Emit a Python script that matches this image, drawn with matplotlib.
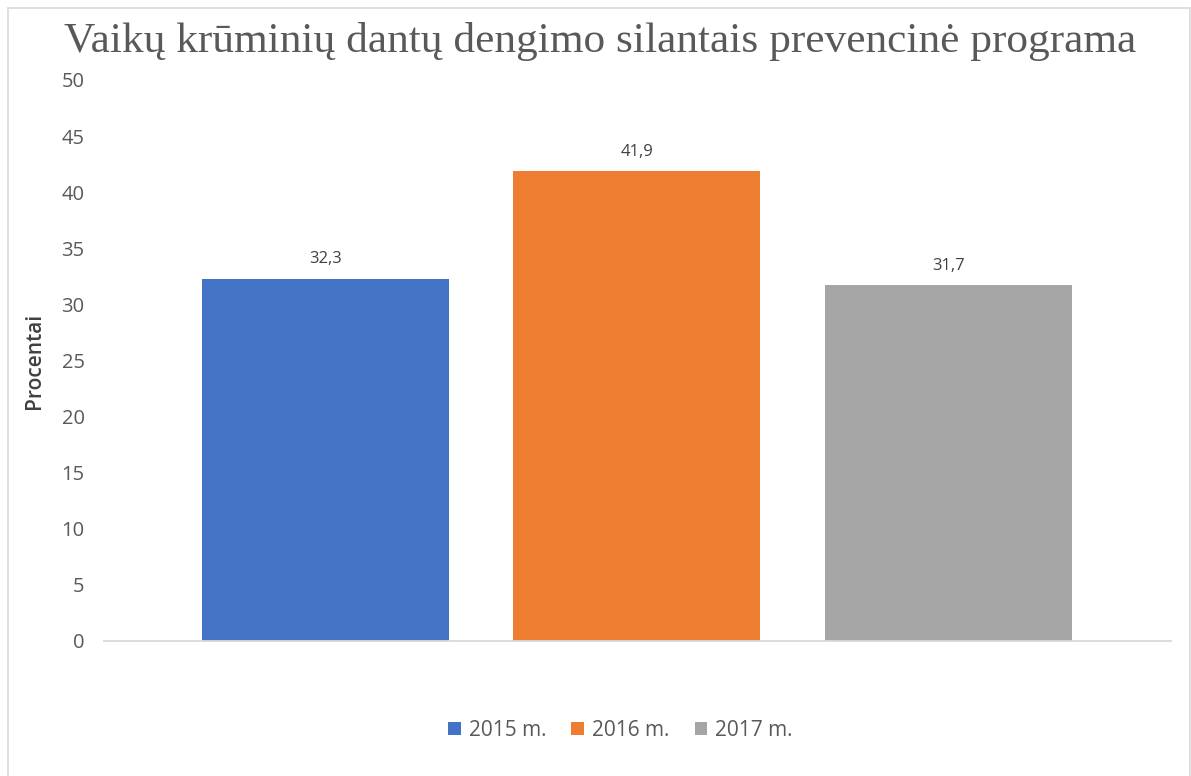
import matplotlib
matplotlib.use("Agg")
import matplotlib.pyplot as plt
from matplotlib.patches import Rectangle

years = ["2015 m.", "2016 m.", "2017 m."]
values = [32.3, 41.9, 31.7]
colors = ["#4472C4", "#ED7D31", "#A5A5A5"]
yticks = [0, 5, 10, 15, 20, 25, 30, 35, 40, 45, 50]

plt.rcParams["font.family"] = ["Open Sans", "DejaVu Sans"]

fig = plt.figure(figsize=(11.91, 7.76), dpi=100, facecolor="white")
ax = fig.add_axes([0.0873, 0.174, 0.8957, 0.723])

xs = list(range(len(years)))
bars = ax.bar(xs, values, width=0.793, color=colors, label=years, zorder=2)
for x, v in zip(xs, values):
    ax.text(x, v + 1.0, f"{v:.1f}".replace(".", ","), ha="center", va="bottom",
            fontsize=12, color="#404040")

ax.set_xlim(-0.711, 2.714)
ax.set_ylim(0, 50)
ax.set_yticks(yticks)
ax.set_xticks([])
ax.tick_params(axis="y", length=0, pad=14, labelsize=14.5, labelcolor="#595959")
for s in ["top", "right", "left"]:
    ax.spines[s].set_visible(False)
ax.spines["bottom"].set_color("#D9D9D9")
ax.spines["bottom"].set_linewidth(1.3)
ax.set_ylabel("Procentai", fontsize=15, color="#404040", fontweight="semibold", labelpad=12)

fig.text(0.504, 0.946, "Vaikų krūminių dantų dengimo silantais prevencinė programa",
         family="Liberation Serif", fontsize=31.2, color="#595959", ha="center", va="center")

fig.legend(handles=bars, labels=years, loc="center", bbox_to_anchor=(0.521, 0.059), ncol=3,
           frameon=False, fontsize=15, labelcolor="#595959", handlelength=0.6, handleheight=0.6,
           handletextpad=0.4, columnspacing=1.2)

fig.patches.append(Rectangle((8 / 1191, -0.01), 1 - 8 / 1191 - 1.5 / 1191, 1 - 8 / 776 + 0.01,
                             transform=fig.transFigure, fill=False, edgecolor="#D9D9D9", linewidth=1.2))

fig.savefig("out.png", dpi=100, facecolor="white")
